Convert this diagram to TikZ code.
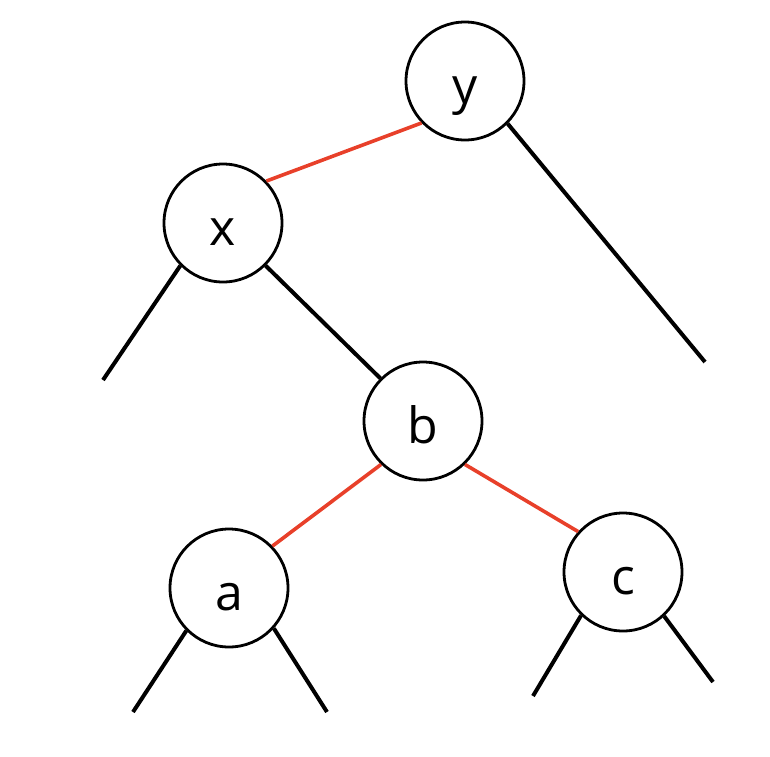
\documentclass[tikz,border=0pt]{standalone}
\usepackage{fontspec}
\setmainfont{Open Sans}
\definecolor{edgered}{RGB}{232,64,42}
\begin{document}
\begin{tikzpicture}[x=1pt,y=-1pt,
  treenode/.style={circle,draw=black,line width=2.8pt,minimum size=118pt,inner sep=0pt,
    text height=44pt,text depth=0pt,font=\fontsize{50}{50}\selectfont},
  blackedge/.style={draw=black,line width=4pt},
  rededge/.style={draw=edgered,line width=3.6pt}]
\useasboundingbox (0,0) rectangle (770,756);
\node[treenode] (y) at (465,81) {y};
\node[treenode] (x) at (223,223) {x};
\node[treenode] (b) at (423,421) {b};
\node[treenode] (a) at (229,588) {a};
\node[treenode] (c) at (623,572) {c};
\coordinate (yr) at (705,362);
\coordinate (xl) at (103,380);
\coordinate (al) at (133,712);
\coordinate (ar) at (327,712);
\coordinate (cl) at (533,696);
\coordinate (cr) at (713,682);
\draw[rededge] (y.224) -- (x.44);
\draw[blackedge] (y.-45) -- (yr);
\draw[blackedge] (x.225) -- (xl);
\draw[blackedge] (x.-45) -- (b.135);
\draw[rededge] (b.226) -- (a.44);
\draw[rededge] (b.-46) -- (c.138);
\draw[blackedge] (a.225) -- (al);
\draw[blackedge] (a.-42) -- (ar);
\draw[blackedge] (c.226) -- (cl);
\draw[blackedge] (c.-47) -- (cr);
\end{tikzpicture}
\end{document}
